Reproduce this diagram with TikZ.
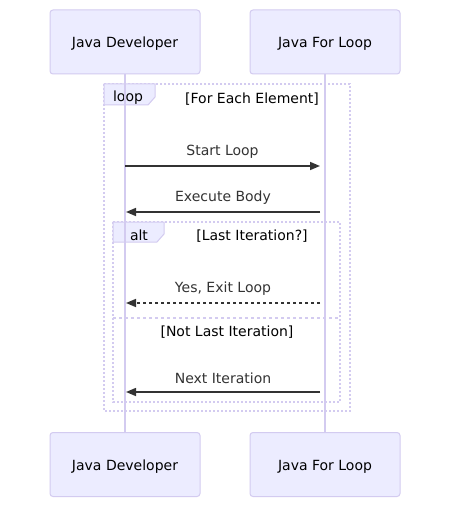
\documentclass[tikz,border=0pt]{standalone}
\usepackage{fontspec}
\setmainfont{DejaVu Sans}
\usetikzlibrary{arrows.meta}
\definecolor{actfill}{HTML}{ECECFF}
\definecolor{actline}{HTML}{D3CBF0}
\definecolor{msgcol}{HTML}{333333}
\tikzset{
  actor/.style={draw=actline, line width=1pt, fill=actfill, rounded corners=3pt,
    minimum width=150pt, minimum height=64pt, font=\fontsize{14}{16}\selectfont, text=black,
    text height=14.5pt, text depth=2.5pt},
  life/.style={draw=actline, line width=1.5pt},
  frame/.style={draw=actline, line width=1.5pt, dash pattern=on 2pt off 2pt},
  divider/.style={draw=actline, line width=1.5pt, dash pattern=on 3pt off 3pt},
  labelbox/.style={draw=actline, line width=1pt, fill=actfill},
  ftext/.style={font=\fontsize{14}{16}\selectfont, text=black, yshift=-2pt},
  msg/.style={draw=msgcol, line width=1.5pt, -{Triangle[length=10pt,width=8pt]}, color=msgcol},
  msgdash/.style={msg, dash pattern=on 3pt off 3pt},
  mtext/.style={font=\fontsize{14}{16}\selectfont, text=msgcol, midway, yshift=14pt},
}
\begin{document}
\begin{tikzpicture}[x=1pt,y=-1pt]
\useasboundingbox (0,0) rectangle (450,508);
\fill[white] (0,0) rectangle (450,508);

% frames
\draw[frame] (104,84) rectangle (350,411);
\draw[labelbox] (104,84) -- (155,84) -- (155,97) -- (148,105) -- (104,105) -- cycle;
\node[ftext] (looplbl) at (128,96) {loop};
\node[ftext] (loopcond) at (252,97) {[For Each Element]};

\draw[frame] (113,222) rectangle (340,402);
\draw[labelbox] (113,222) -- (164,222) -- (164,234) -- (157,242) -- (113,242) -- cycle;
\node[ftext] (altlbl) at (139,233) {alt};
\node[ftext] (altcond) at (252,234) {[Last Iteration?]};
\draw[divider] (113,318) -- (340,318);
\node[ftext] (elsecond) at (227,330) {[Not Last Iteration]};

% actors
\node[actor] (devtop) at (125,42) {Java Developer};
\node[actor] (looptop) at (325,42) {Java For Loop};
\node[actor] (devbot) at (125,464.5) {Java Developer};
\node[actor] (loopbot) at (325,464.5) {Java For Loop};

% lifelines
\draw[life] (devtop.south) -- (devbot.north);
\draw[life] (looptop.south) -- (loopbot.north);

% message anchors
\coordinate (d1) at (125,166); \coordinate (l1) at (320,166);
\coordinate (d2) at (126,212); \coordinate (l2) at (320,212);
\coordinate (d3) at (126,303); \coordinate (l3) at (320,303);
\coordinate (d4) at (126,392); \coordinate (l4) at (320,392);

\draw[msg] (d1) -- node[mtext] {Start Loop} (l1);
\draw[msg] (l2) -- node[mtext] {Execute Body} (d2);
\draw[msgdash] (l3) -- node[mtext] {Yes, Exit Loop} (d3);
\draw[msg] (l4) -- node[mtext] {Next Iteration} (d4);
\end{tikzpicture}
\end{document}
